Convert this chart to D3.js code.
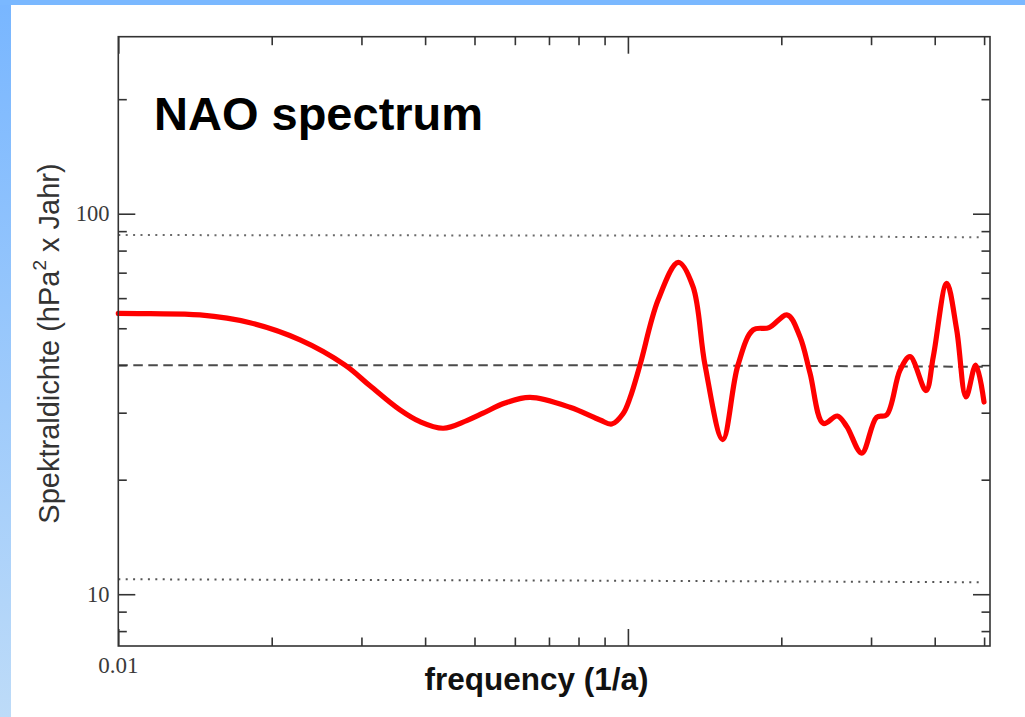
<!DOCTYPE html>
<html><head><meta charset="utf-8">
<script src="https://cdn.jsdelivr.net/npm/d3@7"></script>
<style>body{margin:0;background:#fff;overflow:hidden}</style>
</head><body>
<svg id="chart" width="1025" height="717"></svg>
<script>
// ---- data ----
const freq = [0.01, 0.01154, 0.01446, 0.01813, 0.02273, 0.02786, 0.03118, 0.03571, 0.03908, 0.04342, 0.04828, 0.05195, 0.05739, 0.06426, 0.07698, 0.08816, 0.09295, 0.09781, 0.10095,
  0.1056, 0.1146, 0.1256, 0.1342, 0.1417, 0.1535, 0.1644, 0.1761, 0.1892, 0.2055, 0.2176, 0.2277, 0.2418, 0.2576, 0.2688, 0.2876,
  0.3077, 0.3219, 0.342, 0.3578, 0.3846, 0.3974, 0.4223, 0.4418, 0.4608, 0.4814, 0.4998];
const power = [54.7, 54.6, 54.2, 51.7, 46.6, 40.0, 35.3, 30.5, 28.4, 27.3, 28.6, 29.9, 31.8, 32.9, 31.0, 28.7, 28.0, 29.8, 32.8,
  40.0, 59.3, 74.5, 64.3, 40.0, 25.5, 40.0, 49.5, 50.2, 54.2, 47.5, 38.1, 28.1, 29.4, 27.6, 23.5,
  29.2, 29.6, 38.8, 42.1, 34.3, 42.1, 65.6, 49.5, 33.0, 40.0, 32.0];
const refFreq = [0.01, 0.1, 0.5];
const upper95 = [87.9, 87.6, 86.7];
const meanSpec = [40.0, 40.0, 39.6];
const lower5 = [10.95, 10.85, 10.75];
const xMajor = [0.01, 0.1];
const xMinor = [0.02, 0.03, 0.04, 0.05, 0.06, 0.07, 0.08, 0.09, 0.2, 0.3, 0.4, 0.5];
const yMajor = [10, 100];
const yMinor = [8, 9, 20, 30, 40, 50, 60, 70, 80, 90, 200];
const xLabels = ["0.01"];
const yLabels = ["10", "100"];
const title = "NAO spectrum";
const xTitle = "frequency (1/a)";

// ---- layout ----
const L = 118.3, R = 990, T = 36.7, B = 646;
const svg = d3.select("#chart");

// background border
const defs = svg.append("defs");
const g1 = defs.append("linearGradient").attr("id", "lg").attr("x1", 0).attr("y1", 0).attr("x2", 0).attr("y2", 1);
g1.append("stop").attr("offset", "0%").attr("stop-color", "#78b6ff");
g1.append("stop").attr("offset", "100%").attr("stop-color", "#bddbf8");
svg.append("rect").attr("x", 0).attr("y", 0).attr("width", 11).attr("height", 717).attr("fill", "url(#lg)");
svg.append("rect").attr("x", 0).attr("y", 0).attr("width", 1025).attr("height", 5).attr("fill", "#7ab8ff");

const x = d3.scaleLog().domain([0.01, 0.5135]).range([L, R]);
const y = d3.scaleLog().domain([7.31, 291.9]).range([B, T]);

// reference lines
const refLine = arr => d3.line().x((d, i) => x(refFreq[i])).y(d => y(d))(arr);
svg.append("path").attr("d", refLine(upper95)).attr("fill", "none").attr("stroke", "#6a6a6a")
  .attr("stroke-width", 2).attr("stroke-dasharray", "2,5.4");
svg.append("path").attr("d", refLine(lower5)).attr("fill", "none").attr("stroke", "#555")
  .attr("stroke-width", 2).attr("stroke-dasharray", "2,5.4");
svg.append("path").attr("d", refLine(meanSpec)).attr("fill", "none").attr("stroke", "#4a4a4a")
  .attr("stroke-width", 2).attr("stroke-dasharray", "9.5,5.5");

// spectrum curve
const line = d3.line().x((d, i) => x(freq[i])).y(d => y(d)).curve(d3.curveCatmullRom.alpha(0.5));
svg.append("path").attr("d", line(power)).attr("fill", "none").attr("stroke", "#ff0000")
  .attr("stroke-width", 5.2).attr("stroke-linejoin", "round").attr("stroke-linecap", "round");

// axes (ticks inside on all four sides)
const axG = svg.append("g").attr("class", "axes");
function addAxis(gen, tr, vals, size) {
  const g = axG.append("g").attr("transform", tr)
    .call(gen.tickValues(vals).tickSize(size).tickFormat(""));
  g.select(".domain").remove();
  g.selectAll(".tick line").attr("stroke", "#333").attr("stroke-width", 1.6);
}
addAxis(d3.axisBottom(x), `translate(0,${B})`, xMajor, -17);
addAxis(d3.axisBottom(x), `translate(0,${B})`, xMinor, -8.5);
addAxis(d3.axisTop(x), `translate(0,${T})`, xMajor, -17);
addAxis(d3.axisTop(x), `translate(0,${T})`, xMinor, -8.5);
addAxis(d3.axisLeft(y), `translate(${L},0)`, yMajor, -17);
addAxis(d3.axisLeft(y), `translate(${L},0)`, yMinor, -8.5);
addAxis(d3.axisRight(y), `translate(${R},0)`, yMajor, -17);
addAxis(d3.axisRight(y), `translate(${R},0)`, yMinor, -8.5);

svg.append("rect").attr("x", L).attr("y", T).attr("width", R - L).attr("height", B - T)
  .attr("fill", "none").attr("stroke", "#333").attr("stroke-width", 1.6);

// tick labels
svg.selectAll("text.xl").data(xLabels).enter().append("text")
  .attr("x", d => x(+d)).attr("y", 673).attr("text-anchor", "middle")
  .attr("font-family", "Liberation Serif, serif").attr("font-size", 23).attr("fill", "#3a3a3a").text(d => d);
svg.selectAll("text.yl").data(yLabels).enter().append("text")
  .attr("x", 109.5).attr("y", d => y(+d) + 7.5).attr("text-anchor", "end")
  .attr("font-family", "Liberation Serif, serif").attr("font-size", 22.5).attr("fill", "#3a3a3a").text(d => d);

// titles
svg.append("text").attr("x", 154).attr("y", 130).attr("font-family", "Liberation Sans, Arial, sans-serif")
  .attr("font-weight", "bold").attr("font-size", 47).attr("fill", "#000").text(title);
svg.append("text").attr("x", 536.5).attr("y", 690).attr("text-anchor", "middle")
  .attr("font-family", "Liberation Sans, Arial, sans-serif").attr("font-weight", "bold")
  .attr("font-size", 31.5).attr("fill", "#111").text(xTitle);
const yt = svg.append("text").attr("transform", "translate(59,343.5) rotate(-90)")
  .attr("text-anchor", "middle").attr("font-family", "Liberation Sans, Arial, sans-serif")
  .attr("font-size", 29).attr("fill", "#333");
yt.append("tspan").text("Spektraldichte (hPa");
yt.append("tspan").attr("dy", -13).attr("font-size", 19).text("2");
yt.append("tspan").attr("dy", 13).text(" x Jahr)");
</script>
</body></html>
